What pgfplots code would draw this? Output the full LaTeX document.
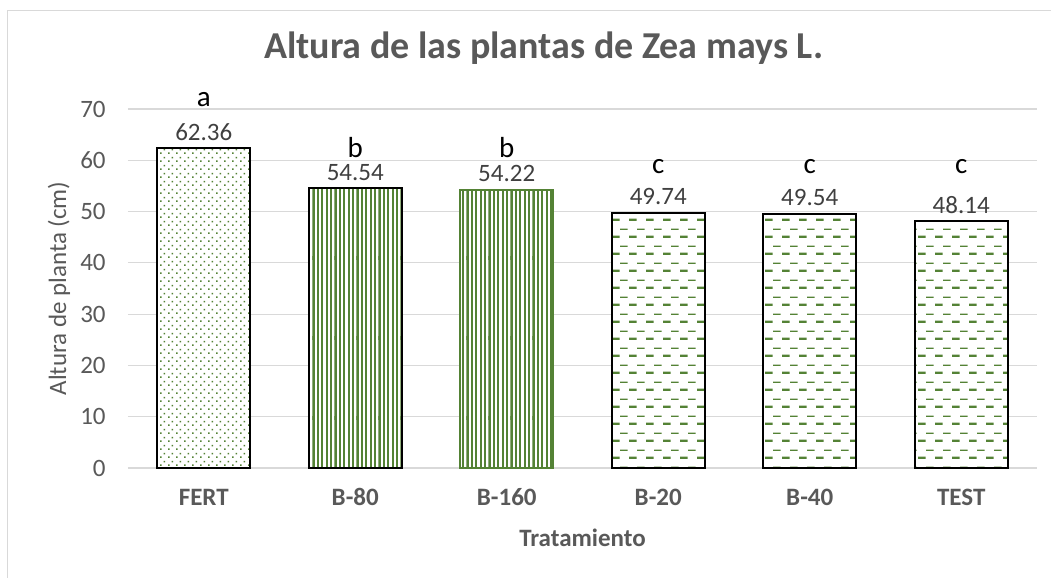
\documentclass[border=0pt]{standalone}
\usepackage{pgfplots}
\usepackage{pgfplotstable}
\pgfplotsset{compat=1.18}
\usetikzlibrary{patterns}
\usepackage{fontspec}
\setmainfont{Carlito}

\definecolor{exgreen}{HTML}{548235}
\definecolor{txtgray}{HTML}{595959}
\definecolor{valgray}{HTML}{404040}
\definecolor{gridgray}{HTML}{D9D9D9}

% pattern tiles
\pgfdeclarepatternformonly{mydots}{\pgfqpoint{0pt}{0pt}}{\pgfqpoint{4pt}{4pt}}{\pgfqpoint{4pt}{4pt}}{%
  \pgfpathrectangle{\pgfqpoint{0pt}{0pt}}{\pgfqpoint{0.9pt}{0.9pt}}%
  \pgfpathrectangle{\pgfqpoint{2pt}{2pt}}{\pgfqpoint{0.9pt}{0.9pt}}%
  \pgfusepath{fill}}
\pgfdeclarepatternformonly{myvlines}{\pgfqpoint{0pt}{-1pt}}{\pgfqpoint{2.2pt}{41pt}}{\pgfqpoint{2.2pt}{40pt}}{%
  \pgfpathrectangle{\pgfqpoint{0pt}{-1pt}}{\pgfqpoint{1.1pt}{42pt}}%
  \pgfusepath{fill}}
\pgfdeclarepatternformonly{mydashes}{\pgfqpoint{0pt}{0pt}}{\pgfqpoint{8.5pt}{8.5pt}}{\pgfqpoint{8.5pt}{8.5pt}}{%
  \pgfpathrectangle{\pgfqpoint{0pt}{0pt}}{\pgfqpoint{4pt}{1.2pt}}%
  \pgfpathrectangle{\pgfqpoint{4.25pt}{4.25pt}}{\pgfqpoint{4pt}{0.7pt}}%
  \pgfusepath{fill}}

% value, letter and height of the letter
\pgfplotstableread{
x y lab ly
0 62.36 a 70.4
1 54.54 b 60.6
2 54.22 b 60.6
3 49.74 c 57.5
4 49.54 c 57.5
5 48.14 c 57.5
}\datatable

\begin{document}
\begin{tikzpicture}
\useasboundingbox (0,0) rectangle (525.5pt,-289pt);
\fill[white] (0,0) rectangle (525.5pt,-289pt);
\draw[gridgray, line width=0.8pt] (3.75pt,-290pt) -- (3.75pt,-5.25pt) -- (526pt,-5.25pt);
\begin{axis}[
    at={(64pt,-234pt)}, anchor=south west,
    scale only axis, width=454.5pt, height=179.5pt,
    ybar, bar width=46.5pt, bar shift=0pt,
    xmin=-0.5, xmax=5.5, ymin=0, ymax=70,
    xtick={0,...,5},
    xticklabels={FERT,B-80,B-160,B-20,B-40,TEST},
    ytick={0,10,...,70},
    major tick length=0pt,
    axis line style={draw=none},
    ymajorgrids, major grid style={gridgray, line width=0.6pt},
    clip=false,
    font=\fontsize{12.5}{14}\selectfont,
    /pgf/number format/assume math mode=true,
    yticklabel style={text=txtgray, anchor=east, inner sep=0pt},
    yticklabel shift=11pt,
    xticklabel style={text=txtgray, font=\fontsize{12.5}{14}\selectfont\bfseries, anchor=base, inner sep=0pt},
    xticklabel shift=18.5pt,
    xlabel={Tratamiento},
    xlabel style={at={(axis description cs:0.5,-0.195)}, anchor=center, text=txtgray, font=\fontsize{12.5}{14}\selectfont\bfseries},
    ylabel={Altura de planta (cm)},
    ylabel style={at={(axis description cs:-0.0759,0.5)}, anchor=center, text=txtgray},
    title={Altura de las plantas de Zea mays L.},
    title style={at={(axis description cs:0.4576,1.1365)}, anchor=center, text=txtgray, font=\fontsize{19}{21}\selectfont\bfseries},
]
\addplot[draw=black, line width=1pt, fill=white, postaction={pattern=mydots, pattern color=exgreen}] coordinates {(0,62.36)};
\addplot[draw=black, line width=1pt, fill=white, postaction={pattern=myvlines, pattern color=exgreen}] coordinates {(1,54.54)};
\addplot[draw=exgreen, line width=1pt, fill=white, postaction={pattern=myvlines, pattern color=exgreen}] coordinates {(2,54.22)};
\addplot[draw=black, line width=1pt, fill=white, postaction={pattern=mydashes, pattern color=exgreen}] coordinates {(3,49.74)};
\addplot[draw=black, line width=1pt, fill=white, postaction={pattern=mydashes, pattern color=exgreen}] coordinates {(4,49.54)};
\addplot[draw=black, line width=1pt, fill=white, postaction={pattern=mydashes, pattern color=exgreen}] coordinates {(5,48.14)};
% value labels
\addplot[draw=none, fill=none, point meta=y,
    nodes near coords={\pgfmathprintnumber[fixed,precision=2,fixed zerofill]{\pgfplotspointmeta}},
    every node near coord/.append style={anchor=base, inner sep=0pt, yshift=4pt, text=valgray, font=\fontsize{12.5}{14}\selectfont, /pgf/number format/assume math mode=true}]
    table[x=x, y=y] {\datatable};
% letters of the mean comparison
\addplot[draw=none, fill=none, point meta=explicit symbolic,
    nodes near coords,
    every node near coord/.append style={anchor=base, inner sep=0pt, yshift=0pt, text=black, font=\fontsize{14.5}{16}\selectfont}]
    table[x=x, y=ly, meta=lab] {\datatable};
\end{axis}
\end{tikzpicture}
\end{document}
